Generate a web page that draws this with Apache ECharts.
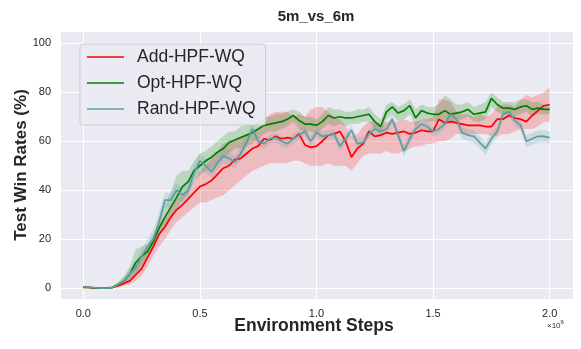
<!DOCTYPE html>
<html>
<head>
<meta charset="utf-8">
<script src="https://cdn.jsdelivr.net/npm/echarts@6/dist/echarts.min.js"></script>
<style>
  html, body { margin: 0; padding: 0; background: #fff; }
  #chart { width: 581px; height: 349px; }
</style>
</head>
<body>
<div id="chart"></div>
<script>
// x step between points, in units of 1e6 environment steps
var STEP = 0.025

var seriesNames = ['Add-HPF-WQ', 'Opt-HPF-WQ', 'Rand-HPF-WQ']
var xTicks = [0.0, 0.5, 1.0, 1.5, 2.0]
var yTicks = [0, 20, 40, 60, 80, 100]

// Add-HPF-WQ (red)
var addMean = [
  0.5, 0.3, 0, 0, 0, 0.3, 1, 2, 3, 5.5,
  8, 12.5, 17, 22, 25, 29, 32, 34, 36.5, 39,
  41.5, 42.5, 44, 46.5, 49, 50, 52.5, 53, 55, 57,
  58, 61, 60.5, 62, 61, 61.5, 61, 63, 58.5, 57.5,
  58, 60, 62.5, 63, 64, 60, 53.5, 57, 59, 64,
  62, 62.5, 63.5, 63, 63.5, 64, 63, 63.5, 64.5, 64,
  64, 69, 67.5, 68, 67.5, 67, 66.5, 66.5, 66.5, 66,
  66, 69, 69, 70.5, 69.5, 69, 68, 70.5, 72.5, 74.5,
  75
]
var addHi = [
  1, 0.8, 0.5, 0.5, 0.5, 1, 2, 3.5, 5.5, 9,
  13, 17, 21, 26, 29, 33, 36, 38, 41, 44,
  48, 50, 53, 56, 59, 60, 61, 62, 62, 63,
  65, 68, 71, 72, 72, 72, 70, 71, 70, 73,
  74, 74, 72, 70, 69, 66, 62, 63, 66, 68,
  68, 67, 68, 68, 68, 69, 68, 68, 69, 69,
  70, 77, 77, 76, 72, 71, 71, 70, 71, 70,
  71, 74, 75, 75, 74, 77, 79, 78, 79, 80,
  82
]
var addLo = [
  0, 0, 0, 0, 0, 0, 0.3, 1, 1.5, 3,
  5, 9, 13, 17, 20, 24, 27, 29, 31, 33,
  35, 35, 36, 37, 38, 40, 42, 44, 46, 48,
  49, 50, 51, 51, 51, 51, 52, 52, 51, 50,
  50, 50, 51, 50, 50, 50, 48, 51, 54, 55,
  55, 55, 56, 55, 55, 56, 57, 58, 58, 59,
  59, 60, 60, 61, 63, 63, 63, 63, 63, 63,
  62, 62, 63, 63, 64, 65, 65, 65, 66, 68,
  68
]

// Opt-HPF-WQ (green)
var optMean = [
  0.3, 0.3, 0.2, 0, 0, 0.3, 1.5, 3, 6, 10.5,
  13, 15, 19, 24.5, 29, 33, 37, 41.5, 43.5, 48,
  50, 52, 53.5, 55.5, 57, 59.5, 60.5, 61.5, 62.5, 63.5,
  65, 66.5, 67, 67.5, 68, 69, 70.5, 68.5, 67, 67,
  66.5, 68, 70.5, 69.5, 70, 69.5, 69.5, 70, 70.5, 71,
  68, 66, 72, 74, 71.5, 72.5, 74.5, 69.5, 72.5, 71.5,
  71, 71, 72.5, 71, 71.5, 72, 73, 71, 71.5, 72,
  77.5, 75, 73.5, 73.5, 73, 74, 74.5, 73, 73.5, 73,
  73
]
var optHi = [
  0.8, 0.6, 0.4, 0.3, 0.3, 0.8, 2.5, 5, 9, 16,
  17, 18, 22, 28, 34, 39, 46, 48, 48, 52,
  55, 56, 58, 60, 62, 64, 64, 66, 67, 67,
  68, 70, 70, 71, 71, 72, 73, 72, 70, 70,
  69, 71, 74, 73, 73, 72, 72, 73, 73, 74,
  71, 69, 75, 76, 74, 75, 77, 73, 75, 74,
  74, 75, 79, 77, 75, 75, 76, 74, 75, 76,
  80, 78, 76, 76, 76, 77, 77, 76, 76, 75,
  75
]
var optLo = [
  0, 0, 0, 0, 0, 0, 0.8, 1.5, 3, 6,
  9, 12, 16, 21, 25, 28, 32, 36, 39, 44,
  46, 48, 49, 51, 53, 55, 57, 57, 58, 59,
  61, 63, 64, 64, 65, 66, 68, 65, 64, 64,
  63, 65, 67, 66, 67, 66, 67, 67, 68, 68,
  65, 63, 69, 71, 68, 69, 71, 66, 69, 68,
  68, 68, 68, 68, 68, 69, 70, 68, 68, 69,
  74, 72, 71, 71, 70, 71, 72, 70, 71, 71,
  71
]

// Rand-HPF-WQ (teal)
var randMean = [
  0.5, 0.4, 0.2, 0, 0, 0.3, 1.5, 3, 6, 8.5,
  13, 17, 20, 27, 36, 36, 40, 38, 40, 47,
  52, 50, 47.5, 51, 54, 53, 51.5, 55, 59.5, 65,
  60, 59, 61, 61.5, 60, 59, 61, 62.5, 64, 60,
  63.5, 62, 62.5, 63, 58, 61, 64.5, 59, 59.5, 63,
  65, 64, 65, 69, 62.5, 56, 61, 65, 67, 66,
  64, 65, 67, 71, 69, 63.5, 62.5, 62, 59.5, 57,
  61, 64, 71, 72, 68.5, 66.5, 60, 61, 62, 62,
  61.5
]
var randHi = [
  0.9, 0.7, 0.4, 0.2, 0.2, 0.7, 2.5, 4.5, 8, 11,
  16, 20, 24, 31, 39, 39, 43, 41, 43, 50,
  55, 53, 50, 54, 57, 56, 54, 58, 62, 67,
  62, 61, 63, 63.5, 62, 61, 63, 64.5, 66, 62,
  65.5, 64, 64.5, 65, 60, 63, 66.5, 61, 61.5, 65,
  67, 66, 67, 71, 64.5, 58.5, 63, 67, 69, 68,
  66, 67, 69, 73, 71, 66, 65, 64.5, 62, 59.5,
  63.5, 66, 73, 74, 70.5, 68.5, 62.5, 63.5, 64.5, 64.5,
  64
]
var randLo = [
  0.2, 0.1, 0, 0, 0, 0, 0.6, 1.5, 4, 6,
  10, 14, 16, 23, 33, 33, 37, 35, 37, 44,
  49, 47, 45, 48, 51, 50, 49, 52, 57, 63,
  58, 57, 59, 59.5, 58, 57, 59, 60.5, 62, 58,
  61.5, 60, 60.5, 61, 56, 59, 62.5, 57, 57.5, 61,
  63, 62, 63, 67, 60.5, 53.5, 59, 63, 65, 64,
  62, 63, 65, 69, 67, 61, 60, 59.5, 57, 54.5,
  58.5, 62, 69, 70, 66.5, 64.5, 57.5, 58.5, 59.5, 59.5,
  59
]

var colors = ['#ff0000', '#008000', '#5f9ea0']
var bandColors = ['rgba(255,0,0,0.2)', 'rgba(0,128,0,0.2)', 'rgba(95,158,160,0.22)']
var FONT = '"Liberation Sans", Arial, Helvetica, sans-serif'
var TEXT = '#262626'

function pairs(vals) {
  return vals.map(function (v, i) { return [i * STEP, v] })
}

var groups = [
  { name: seriesNames[0], mean: addMean, hi: addHi, lo: addLo },
  { name: seriesNames[1], mean: optMean, hi: optHi, lo: optLo },
  { name: seriesNames[2], mean: randMean, hi: randHi, lo: randLo }
]

// band = one polygon: upper edge forwards, lower edge backwards
function bandSeries(g, k) {
  return {
    name: g.name + ' band', type: 'custom', silent: true, z: 1,
    data: g.hi.map(function (v, i) { return [i * STEP, g.lo[i], v] }),
    encode: { x: 0, y: [1, 2] },
    renderItem: function (params, api) {
      if (params.dataIndex !== 0) return null
      var pts = []
      for (var i = 0; i < g.hi.length; i++) pts.push(api.coord([i * STEP, g.hi[i]]))
      for (var j = g.lo.length - 1; j >= 0; j--) pts.push(api.coord([j * STEP, g.lo[j]]))
      return { type: 'polygon', shape: { points: pts }, style: { fill: bandColors[k] } }
    }
  }
}

var series = []
groups.forEach(function (g, k) { series.push(bandSeries(g, k)) })
groups.forEach(function (g, k) {
  series.push({
    name: g.name, type: 'line', data: pairs(g.mean), symbol: 'none', z: 3,
    color: colors[k],
    lineStyle: { color: colors[k], width: 1.7 }
  })
})

var chart = echarts.init(document.getElementById('chart'))
chart.setOption({
  animation: false,
  backgroundColor: '#ffffff',
  grid: {
    left: 60, right: 8, top: 31, bottom: 50,
    show: true, backgroundColor: '#eaeaf2', borderWidth: 0
  },
  xAxis: {
    type: 'value', min: -0.1, max: 2.1, splitNumber: 5,
    axisLine: { show: false }, axisTick: { show: false },
    splitLine: { show: true, lineStyle: { color: '#ffffff', width: 1 } },
    axisLabel: {
      color: TEXT, fontSize: 11, fontFamily: FONT, margin: 9,
      formatter: function (v) {
        for (var i = 0; i < xTicks.length; i++) {
          if (Math.abs(v - xTicks[i]) < 1e-6) return xTicks[i].toFixed(1)
        }
        return ''
      }
    }
  },
  yAxis: {
    type: 'value', min: -4.4, max: 105, splitNumber: 5,
    axisLine: { show: false }, axisTick: { show: false },
    splitLine: { show: true, lineStyle: { color: '#ffffff', width: 1 } },
    axisLabel: {
      color: TEXT, fontSize: 11, fontFamily: FONT, margin: 9,
      formatter: function (v) {
        return yTicks.indexOf(v) >= 0 ? String(v) : ''
      }
    }
  },
  legend: {
    orient: 'vertical', left: 80, top: 44,
    data: seriesNames,
    icon: 'rect', itemWidth: 37, itemHeight: 1.7, itemGap: 0,
    padding: [0, 10, 3, 7],
    backgroundColor: 'rgba(234,234,242,0.8)',
    borderColor: '#cccccc', borderWidth: 1, borderRadius: 3,
    textStyle: { color: TEXT, fontSize: 17.5, fontFamily: FONT, lineHeight: 26, padding: [0, 0, 0, 8] }
  },
  graphic: [
    {
      type: 'text', x: 316, y: 17,
      style: { text: '5m_vs_6m', fill: TEXT, font: 'bold 15px ' + FONT, textAlign: 'center', textVerticalAlign: 'middle' }
    },
    {
      type: 'text', x: 21, y: 165, rotation: Math.PI / 2,
      style: { text: 'Test Win Rates (%)', fill: TEXT, font: 'bold 17px ' + FONT, textAlign: 'center', textVerticalAlign: 'middle' }
    },
    {
      type: 'text', x: 314, y: 326,
      style: { text: 'Environment Steps', fill: TEXT, font: 'bold 17.5px ' + FONT, textAlign: 'center', textVerticalAlign: 'middle' }
    },
    {
      type: 'text', x: 547, y: 318,
      style: {
        text: '{b|×10}{s|6}', fill: TEXT,
        rich: {
          b: { fontSize: 8, fontFamily: FONT, fill: TEXT, padding: [4, 0, 0, 0] },
          s: { fontSize: 6, fontFamily: FONT, fill: TEXT, padding: [0, 0, 4, 0] }
        }
      }
    }
  ],
  series: series
})
</script>
</body>
</html>
